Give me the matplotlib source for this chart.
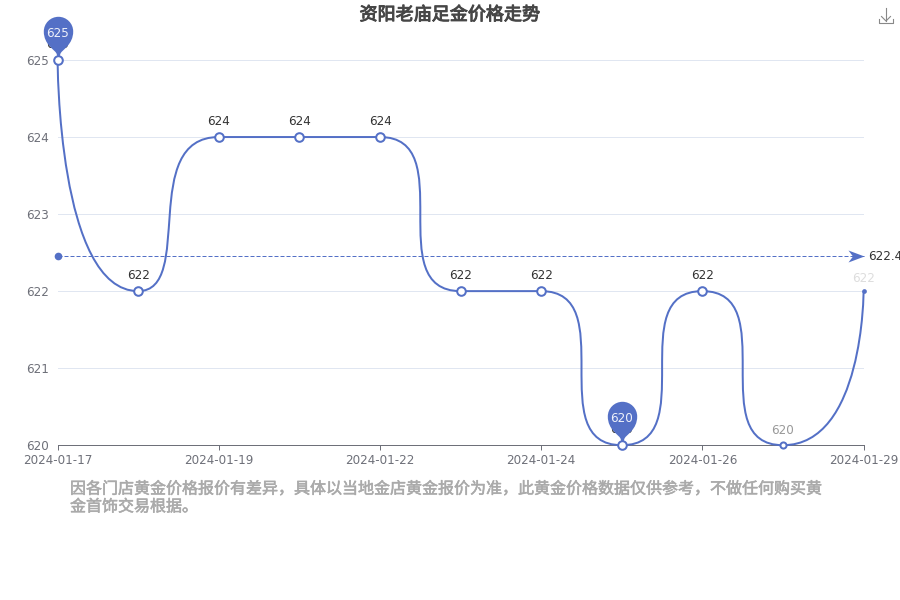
import numpy as np
import matplotlib
matplotlib.use('Agg')
import matplotlib.pyplot as plt
import matplotlib.patheffects as pe
from matplotlib.path import Path
from matplotlib.patches import PathPatch
from matplotlib.lines import Line2D

plt.rcParams['font.family'] = ['DejaVu Sans', 'Noto Sans CJK SC']

dates = ['2024-01-17', '2024-01-18', '2024-01-19', '2024-01-20', '2024-01-22', '2024-01-23',
         '2024-01-24', '2024-01-25', '2024-01-26', '2024-01-27', '2024-01-29']
prices = [625, 622, 624, 624, 624, 622, 622, 620, 622, 620, 622]
yticks = [620, 621, 622, 623, 624, 625]
title = '资阳老庙足金价格走势'
note = '因各门店黄金价格报价有差异，具体以当地金店黄金报价为准，此黄金价格数据仅供参考，不做任何购买黄\n金首饰交易根据。'

BLUE = '#5470C6'
GREY = '#6E7079'
CJK = ['Noto Sans CJK SC', 'DejaVu Sans']


def smooth_path(x, y, sx, sy, smooth=1.0):
    # same idea as the echarts smooth line, lengths measured in pixels
    px = np.array(x, dtype=float) * sx
    py = np.array(y, dtype=float) * sy
    n = len(px)
    verts = [(px[0], py[0])]
    codes = [Path.MOVETO]
    cx, cy = px[0], py[0]
    for i in range(1, n):
        xi, yi = px[i], py[i]
        if i == n - 1:
            verts += [(cx, cy), (xi, yi), (xi, yi)]
            codes += [Path.CURVE4] * 3
            break
        xp, yp = px[i - 1], py[i - 1]
        xn, yn = px[i + 1], py[i + 1]
        lp = np.hypot(xi - xp, yi - yp)
        ln = np.hypot(xn - xi, yn - yi)
        r = ln / (ln + lp)
        nx = min(max(xi + (xn - xp) * smooth * r, min(xn, xi)), max(xn, xi))
        ny = min(max(yi + (yn - yp) * smooth * r, min(yn, yi)), max(yn, yi))
        vx, vy = nx - xi, ny - yi
        c1x = min(max(xi - vx * lp / ln, min(xp, xi)), max(xp, xi))
        c1y = min(max(yi - vy * lp / ln, min(yp, yi)), max(yp, yi))
        vx, vy = xi - c1x, yi - c1y
        verts += [(cx, cy), (c1x, c1y), (xi, yi)]
        codes += [Path.CURVE4] * 3
        cx, cy = xi + vx * ln / lp, yi + vy * ln / lp
    verts = np.array(verts) / [sx, sy]
    return Path(verts, codes)


def pin_marker():
    # tip at the origin, round head above it, units are pixels
    k = 0.5523
    r = 14.7
    c = 29
    verts = [(0, 0), (-2, 7), (-4, 11), (-r, 16), (-r, c),
             (-r, c + k * r), (-k * r, c + r), (0, c + r),
             (k * r, c + r), (r, c + k * r), (r, c),
             (r, 16), (4, 11), (2, 7), (0, 0), (0, 0)]
    codes = [Path.MOVETO, Path.LINETO] + [Path.CURVE4] * 12 + [Path.LINETO, Path.CLOSEPOLY]
    return Path(verts, codes), c + r


def arrow_marker():
    verts = [(0, 0), (-16, 6), (-11.5, 0), (-16, -6), (0, 0)]
    codes = [Path.MOVETO, Path.LINETO, Path.LINETO, Path.LINETO, Path.CLOSEPOLY]
    return Path(verts, codes), 16


fig = plt.figure(figsize=(9, 6), dpi=100)
ax = fig.add_axes([57.6 / 900, 1 - 445.2 / 600, 806 / 900, 385.2 / 600])
x = np.arange(len(prices))
ax.set_xlim(0, len(prices) - 1)
ax.set_ylim(yticks[0], yticks[-1])
sx = 806 / (len(prices) - 1)
sy = 385.2 / (yticks[-1] - yticks[0])

ax.set_yticks(yticks)
ax.set_xticks(x[::2])
ax.set_xticklabels(dates[::2])
ax.tick_params(axis='y', length=0, pad=6.5, labelsize=8.64, labelcolor=GREY)
ax.tick_params(axis='x', length=3.6, width=0.72, color=GREY, pad=2.4, labelsize=8.64, labelcolor=GREY)
ax.grid(axis='y', color='#E0E6F1', lw=0.72)
ax.grid(axis='x', visible=False)
ax.set_axisbelow(True)
for s in ['top', 'right', 'left']:
    ax.spines[s].set_visible(False)
ax.spines['bottom'].set_color(GREY)
ax.spines['bottom'].set_linewidth(0.72)

# average line
avg = np.mean(prices)
ax.plot([x[0], x[-1]], [avg, avg], color=BLUE, lw=0.72, ls=(0, (4, 2)), clip_on=False, zorder=2)
ax.plot([x[0]], [avg], 'o', color=BLUE, ms=5.5, mew=0, clip_on=False, zorder=3)
arrow, arrow_size = arrow_marker()
ax.plot([x[-1]], [avg], marker=arrow, color=BLUE, ms=2 * arrow_size * 0.72, mew=0, clip_on=False, zorder=3)
ax.annotate(f'{avg:.2f}', (x[-1], avg), xytext=(3.6, 0), textcoords='offset points', va='center', ha='left',
            fontsize=8.64, color='#333333', annotation_clip=False, clip_on=False)

# smooth price line
ax.add_patch(PathPatch(smooth_path(x, prices, sx, sy), fc='none', ec=BLUE, lw=1.44, clip_on=False, zorder=4))

# points and labels, the last two fade out
sizes = [6.2] * 9 + [4.4, 2.4]
label_colors = ['#333333'] * 9 + ['#999999', '#DDDDDD']
label_offsets = [11.5] * 9 + [10.5, 9.4]
for xi, p, ms, lc, off in zip(x, prices, sizes, label_colors, label_offsets):
    if ms > 3:
        ax.plot([xi], [p], 'o', mfc='white', mec=BLUE, mew=1.44, ms=ms, clip_on=False, zorder=6)
    else:
        ax.plot([xi], [p], 'o', color=BLUE, mew=0, ms=ms + 1, clip_on=False, zorder=6)
    ax.annotate(str(p), (xi, p), xytext=(0, off), textcoords='offset points', ha='center', va='center',
                fontsize=8.64, color=lc, annotation_clip=False, zorder=3)

# max / min pins
pin, pin_size = pin_marker()
for i in [int(np.argmax(prices)), int(np.argmin(prices))]:
    ax.plot([x[i]], [prices[i]], marker=pin, color=BLUE, ms=2 * pin_size * 0.72, mew=0, clip_on=False, zorder=5)
    ax.annotate(str(prices[i]), (x[i], prices[i]), xytext=(0, 19), textcoords='offset points', ha='center',
                va='center', fontsize=8.64, color='#EEF1FA', annotation_clip=False, zorder=7)

fig.text(449.5 / 900, 1 - 15 / 600, title, ha='center', va='center', fontsize=13, color='#464646', family=CJK,
         path_effects=[pe.withStroke(linewidth=0.7, foreground='#464646')])
fig.text(70 / 900, 1 - 498 / 600, note, ha='left', va='center', fontsize=11.52, color='#AAAAAA', family=CJK,
         linespacing=1.06, path_effects=[pe.withStroke(linewidth=0.4, foreground='#AAAAAA')])

# save icon top right
icon = [([886, 886], [8, 21]), ([881.5, 886, 890.5], [16.5, 21, 16.5]), ([879, 879, 893, 893], [19, 23, 23, 19])]
for ix, iy in icon:
    fig.add_artist(Line2D(np.array(ix) / 900, 1 - np.array(iy) / 600, color='#888888', lw=0.8))

fig.savefig('out.png', dpi=100)
